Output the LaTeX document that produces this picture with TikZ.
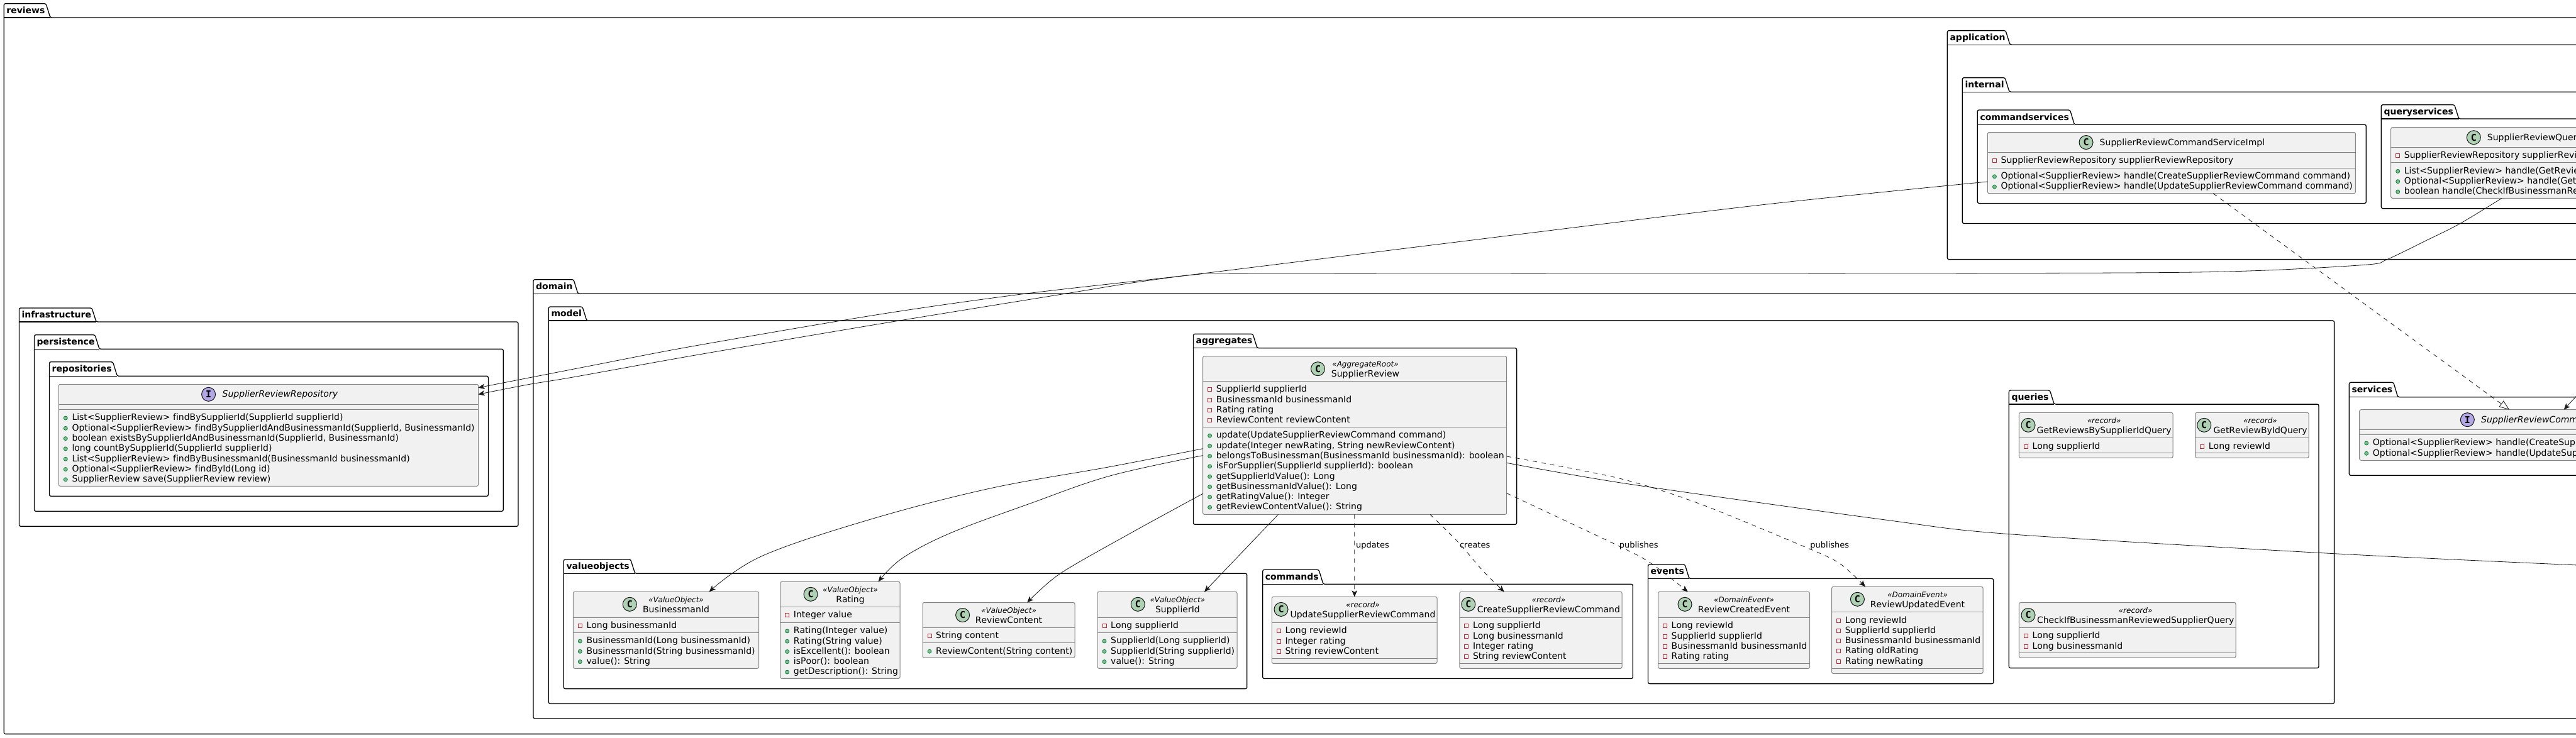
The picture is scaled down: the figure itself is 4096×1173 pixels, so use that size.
\documentclass[tikz,border=0pt]{standalone}
\usepackage{fontspec}
\setmainfont{DejaVu Sans}[Kerning=Off,Ligatures=NoCommon]
\newfontfamily\glyphfont{DejaVu Sans Mono}[Kerning=Off]
\usetikzlibrary{arrows.meta,calc}
\definecolor{cfill}{HTML}{F1F1F1}
\definecolor{cedge}{HTML}{848484}
\definecolor{ink}{HTML}{181818}
\definecolor{cspot}{HTML}{ADD1B2}
\definecolor{ispot}{HTML}{B4A7E5}
\definecolor{fieldred}{HTML}{C82930}
\definecolor{methfill}{HTML}{84BE84}
\definecolor{methedge}{HTML}{038048}
\tikzset{
  pkline/.style={draw=black,line width=1.3pt,line join=round},
  pklabel/.style={anchor=base west,inner sep=0pt,font=\fontsize{14}{16}\selectfont\bfseries},
  cbox/.style={draw=cedge,fill=cfill,line width=1pt,rounded corners=2.5pt,inner sep=0pt,outer sep=0pt},
  cline/.style={draw=cedge,line width=1pt},
  mem/.style={anchor=base west,inner sep=0pt,font=\fontsize{14}{16}\selectfont},
  stereo/.style={anchor=base,inner sep=0pt,font=\fontsize{12}{14}\selectfont\itshape},
  ctitle/.style={anchor=base,inner sep=0pt,font=\fontsize{14}{16}\selectfont},
  spotc/.style={draw=ink,fill=cspot,line width=1pt},
  spoti/.style={draw=ink,fill=ispot,line width=1pt},
  spotl/.style={inner sep=0pt,font=\fontsize{15}{16}\glyphfont\bfseries},
  ficon/.style={draw=fieldred,line width=1pt,fill=none},
  micon/.style={draw=methedge,fill=methfill,line width=.8pt},
  conn/.style={draw=ink,line width=.8pt},
  tipa/.style={-{Stealth[length=10pt,width=8.5pt,inset=2.5pt]}},
  tipr/.style={-{Triangle[open,length=16pt,width=12pt,fill=white]}},
  elabel/.style={anchor=base west,inner sep=0pt,font=\fontsize{13}{15}\selectfont},
}
\newcommand{\pkg}[8]{%
  \draw[pkline,rounded corners=2.5pt] (#2,#5) -- (#2,#3) -- ({#4-7},#3) -- (#4,#5) -- (#6,#5) -- (#6,#7) -- (#2,#7) -- cycle;
  \draw[pkline] (#2,#5) -- (#4,#5);
  \node[pklabel] (#1) at ({#2+4},{#5-7}) {#8};
}
\newcommand{\klass}[7]{%
  \node[cbox,minimum width={(#4-#2)*1pt},minimum height={(#5-#3)*1pt}] (#1) at ({(#2+#4)/2},{(#3+#5)/2}) {};
  \draw[cline] (#2,#6) -- (#4,#6);
  \draw[cline] (#2,#7) -- (#4,#7);
  \def\kL{#2}\def\kT{#3}\def\kA{#6}\def\kB{#7}%
}
% header with stereotype: name, spot x, text centre x, stereotype, title
\newcommand{\kheadS}[5]{%
  \draw[spotc] (#2,{\kT+20}) circle (11);
  \node[spotl] (#1-spot) at (#2,{\kT+20}) {C};
  \node[stereo] (#1-st) at (#3,{\kT+16.7}) {«#4»};
  \node[ctitle] (#1-ti) at (#3,{\kT+33}) {#5};
}
% plain header: name, spot style, letter, spot x, title start x, title
\newcommand{\kheadP}[6]{%
  \draw[#2] (#4,{\kT+16}) circle (11);
  \node[spotl] (#1-spot) at (#4,{\kT+16}) {#3};
  \node[mem] (#1-ti) at (#5,{\kT+20.5}) {#6};
}
\newcommand{\kfields}[2]{%
  \foreach \t [count=\i] in {#2} {
    \pgfmathsetmacro\yy{\kA+17.5+(\i-1)*16.3}
    \draw[ficon] ({\kL+8},{\yy-7}) rectangle ({\kL+14},{\yy-1});
    \node[mem,name=#1-f\i] at ({\kL+21},\yy) {\t};
  }
}
\newcommand{\kmethods}[2]{%
  \foreach \t [count=\i] in {#2} {
    \pgfmathsetmacro\yy{\kB+17.5+(\i-1)*16.3}
    \draw[micon] ({\kL+11},{\yy-3.8}) circle (3);
    \node[mem,name=#1-m\i] at ({\kL+21},\yy) {\t};
  }
}
\begin{document}
\begin{tikzpicture}[x=1pt,y=-1pt]
\useasboundingbox (0,0) rectangle (4096,1173);
\fill[white] (0,0) rectangle (4096,1173);
\clip (0,0) rectangle (4096,1173);

% packages
\pkg{pReviews}{6.2}{5.7}{80}{28}{4110}{1167.6}{reviews}
\pkg{pApplication}{3096.3}{48.6}{3196}{71.2}{4110}{412.6}{application}
\pkg{pInternal}{3120.3}{123.6}{3195}{146.2}{4110}{355.5}{internal}
\pkg{pCommandservices}{3144.3}{174.9}{3298.4}{198.2}{3762.3}{323.4}{commandservices}
\pkg{pQueryservices}{3786.3}{166.7}{3909.7}{189}{4110}{331.7}{queryservices}
\pkg{pInfrastructure}{30.4}{489.9}{153}{512}{824}{837.3}{infrastructure}
\pkg{pPersistence}{54.5}{532.7}{158}{555.3}{800.3}{813.3}{persistence}
\pkg{pRepositories}{78.4}{575.7}{186.4}{598.3}{776.4}{789.3}{repositories}
\pkg{pDomain}{848}{444.7}{919}{467.3}{4110}{1143}{domain}
\pkg{pModel}{872.3}{488}{933}{510.1}{3711.6}{1119.4}{model}
\pkg{pAggregates}{1897.4}{531.3}{1999}{553.7}{2411.6}{834.3}{aggregates}
\pkg{pValueobjects}{896.3}{890}{1009.7}{912.3}{1982.8}{1095.7}{valueobjects}
\pkg{pCommands}{2007.7}{906.3}{2104}{929.3}{2596.3}{1079.5}{commands}
\pkg{pEvents}{2620.5}{897.9}{2686}{920.5}{3169.8}{1087.6}{events}
\pkg{pQueries}{3194.3}{620.8}{3266.3}{643.1}{3687}{1062.7}{queries}
\pkg{pServices}{3735.3}{608.3}{3812.7}{631.7}{4110}{756.3}{services}

% classes
\klass{repo}{93.3}{611.3}{760.5}{773.3}{643.3}{651.3}
\kheadP{repo}{spoti}{I}{331.6}{353.5}{\itshape SupplierReviewRepository}
\kmethods{repo}{{List<SupplierReview> findBySupplierId(SupplierId supplierId)},{Optional<SupplierReview> findBySupplierIdAndBusinessmanId(SupplierId, BusinessmanId)},{boolean existsBySupplierIdAndBusinessmanId(SupplierId, BusinessmanId)},{long countBySupplierId(SupplierId supplierId)},{List<SupplierReview> findByBusinessmanId(BusinessmanId businessmanId)},{Optional<SupplierReview> findById(Long id)},{SupplierReview save(SupplierReview review)}}

\klass{srv}{1912.6}{566.7}{2395.7}{818.3}{606.3}{679.3}
\kheadS{srv}{2095.5}{2171}{AggregateRoot}{SupplierReview}
\kfields{srv}{{SupplierId supplierId},{BusinessmanId businessmanId},{Rating rating},{ReviewContent reviewContent}}
\kmethods{srv}{{update(UpdateSupplierReviewCommand command)},{update(Integer newRating, String newReviewContent)},{belongsToBusinessman(BusinessmanId businessmanId): boolean},{isForSupplier(SupplierId supplierId): boolean},{getSupplierIdValue(): Long},{getBusinessmanIdValue(): Long},{getRatingValue(): Integer},{getReviewContentValue(): String}}

\klass{bid}{911.3}{941.3}{1206.7}{1063.3}{982.3}{1006.3}
\kheadS{bid}{1001.3}{1075}{ValueObject}{BusinessmanId}
\kfields{bid}{{Long businessmanId}}
\kmethods{bid}{{BusinessmanId(Long businessmanId)},{BusinessmanId(String businessmanId)},{value(): String}}

\klass{rat}{1240.7}{925.3}{1431}{1079.4}{965.4}{990.2}
\kheadS{rat}{1289}{1352}{ValueObject}{Rating}
\kfields{rat}{{Integer value}}
\kmethods{rat}{{Rating(Integer value)},{Rating(String value)},{isExcellent(): boolean},{isPoor(): boolean},{getDescription(): String}}

\klass{rco}{1467}{958.5}{1709}{1046.3}{998.4}{1022.5}
\kheadS{rco}{1530.6}{1604}{ValueObject}{ReviewContent}
\kfields{rco}{{String content}}
\kmethods{rco}{{ReviewContent(String content)}}

\klass{sid}{1745}{941.3}{1967}{1063.3}{982.3}{1006.3}
\kheadS{sid}{1809.3}{1872.4}{ValueObject}{SupplierId}
\kfields{sid}{{Long supplierId}}
\kmethods{sid}{{SupplierId(Long supplierId)},{SupplierId(String supplierId)},{value(): String}}

\klass{upd}{2022.3}{949.4}{2285}{1055.4}{990.3}{1047.4}
\kheadS{upd}{2037}{2167}{record}{UpdateSupplierReviewCommand}
\kfields{upd}{{Long reviewId},{Integer rating},{String reviewContent}}

\klass{cre}{2320.8}{941.3}{2579}{1063.4}{982.3}{1055.4}
\kheadS{cre}{2334.8}{2462.4}{record}{CreateSupplierReviewCommand}
\kfields{cre}{{Long supplierId},{Long businessmanId},{Integer rating},{String reviewContent}}

\klass{rce}{2636.5}{941.3}{2877.5}{1063.4}{982.3}{1055.4}
\kheadS{rce}{2679}{2773}{DomainEvent}{ReviewCreatedEvent}
\kfields{rce}{{Long reviewId},{SupplierId supplierId},{BusinessmanId businessmanId},{Rating rating}}

\klass{rue}{2912.6}{933.3}{3153}{1071.5}{973.5}{1063.4}
\kheadS{rue}{2953.4}{3049}{DomainEvent}{ReviewUpdatedEvent}
\kfields{rue}{{Long reviewId},{SupplierId supplierId},{BusinessmanId businessmanId},{Rating oldRating},{Rating newRating}}

\klass{gbs}{3210.4}{656.3}{3455}{728.3}{696.5}{720.2}
\kheadS{gbs}{3225}{3345.6}{record}{GetReviewsBySupplierIdQuery}
\kfields{gbs}{{Long supplierId}}

\klass{gbi}{3490.7}{656.3}{3671}{728.3}{696.5}{720.2}
\kheadS{gbi}{3504.7}{3594}{record}{GetReviewByIdQuery}
\kfields{gbi}{{Long reviewId}}

\klass{chk}{3210.4}{958.5}{3555}{1046.3}{998.4}{1038.6}
\kheadS{chk}{3225}{3395.6}{record}{CheckIfBusinessmanReviewedSupplierQuery}
\kfields{chk}{{Long supplierId},{Long businessmanId}}

\klass{svc}{3751.7}{651.7}{4110}{732.3}{683.3}{691.3}
\kheadP{svc}{spoti}{I}{3923.3}{3945}{\itshape SupplierReviewComm}
\kmethods{svc}{{Optional<SupplierReview> handle(CreateSupp},{Optional<SupplierReview> handle(UpdateSup}}

\klass{cmd}{3160.4}{210.5}{3745.4}{307.7}{242.2}{267.1}
\kheadP{cmd}{spotc}{C}{3317}{3338.5}{SupplierReviewCommandServiceImpl}
\kfields{cmd}{{SupplierReviewRepository supplierReviewRepository}}
\kmethods{cmd}{{Optional<SupplierReview> handle(CreateSupplierReviewCommand command)},{Optional<SupplierReview> handle(UpdateSupplierReviewCommand command)}}

\klass{qry}{3801.7}{202.7}{4110}{315.3}{234.3}{258.7}
\kheadP{qry}{spotc}{C}{3933.3}{3954.7}{SupplierReviewQuer}
\kfields{qry}{{SupplierReviewRepository supplierRevi}}
\kmethods{qry}{{List<SupplierReview> handle(GetRevie},{Optional<SupplierReview> handle(Get},{boolean handle(CheckIfBusinessmanRe}}

% connector ends
\coordinate (cmdA) at ($(cmd.north west)+(0,78.5)$);
\coordinate (repoA) at ($(repo.north east)+(0,5.4)$);
\coordinate (qryA) at ($(qry.south west)+(176.3,0)$);
\coordinate (repoB) at ($(repo.north east)+(0,16)$);
\coordinate (cmdB) at ($(cmd.south west)+(358.6,0)$);
\coordinate (svcA) at ($(svc.north west)+(238.3,0)$);
\coordinate (svcB) at ($(svc.north west)+(325,0)$);
\coordinate (svcFree) at (4110,615.4);
\coordinate (srvBid) at ($(srv.north west)+(0,147)$);
\coordinate (bidA) at ($(bid.north west)+(216.4,0)$);
\coordinate (srvRat) at ($(srv.north west)+(0,157.9)$);
\coordinate (ratA) at ($(rat.north west)+(156,0)$);
\coordinate (srvRco) at ($(srv.north west)+(0,218.6)$);
\coordinate (rcoA) at ($(rco.north west)+(166.3,0)$);
\coordinate (srvSid) at ($(srv.south west)+(119.9,0)$);
\coordinate (sidA) at ($(sid.north west)+(170,0)$);
\coordinate (srvUpd) at ($(srv.south west)+(241.1,0)$);
\coordinate (updA) at ($(upd.north west)+(131.4,0)$);
\coordinate (srvCre) at ($(srv.south west)+(361.4,0)$);
\coordinate (creA) at ($(cre.north west)+(70.8,0)$);
\coordinate (srvRce) at ($(srv.north east)+(0,217.9)$);
\coordinate (rceA) at ($(rce.north west)+(47.2,0)$);
\coordinate (srvRue) at ($(srv.north east)+(0,159.3)$);
\coordinate (rueA) at ($(rue.north west)+(53.4,0)$);
\coordinate (srvOut) at ($(srv.north east)+(0,169.6)$);
\coordinate (outFree) at (4110,899.5);

% connectors
\draw[conn,tipa] plot[smooth,tension=0.5] coordinates {(cmdA) (2800,326) (2300,387) (1904,436) (1632,467) (1400,499.8) (1100,551) (940,581.7) (846,600) (repoA)};
\draw[conn,tipa] plot[smooth,tension=0.5] coordinates {(qryA) (3911,356) (3857.6,382.7) (3795,413) (3764,421) (3590.5,430.5) (3377,434) (2700,435) (1980,434.6) (1904,436.5) (1800,450) (1695,467) (1400,515) (1100,566) (911,600) (840,611.7) (repoB)};
\draw[conn,dashed,dash pattern=on 7pt off 7pt,tipr] (cmdB) -- (svcA);
\draw[conn,tipa] (svcFree) -- (svcB);
\draw[conn,tipa] plot[smooth,tension=0.6] coordinates {(srvBid) (1765,742.5) (1574,777) (1382.6,826.6) (1210.5,885) (bidA)};
\draw[conn,tipa] plot[smooth,tension=0.6] coordinates {(srvRat) (1765,757) (1637.8,801) (1510,848.5) (1433.7,888.7) (ratA)};
\draw[conn,tipa] plot[smooth,tension=0.5] coordinates {(srvRco) (1797,848.5) (1685.6,912.5) (rcoA)};
\draw[conn,tipa] (srvSid) -- (sidA);
\draw[conn,dashed,dash pattern=on 7pt off 7pt,tipa] (srvUpd) -- (updA);
\draw[conn,dashed,dash pattern=on 7pt off 7pt,tipa] plot[smooth,tension=0.5] coordinates {(srvCre) (2319,863) (2357,907) (creA)};
\draw[conn,dashed,dash pattern=on 7pt off 7pt,tipa] plot[smooth,tension=0.5] coordinates {(srvRce) (2574,868.6) (2625,896) (rceA)};
\draw[conn,dashed,dash pattern=on 7pt off 7pt,tipa] plot[smooth,tension=0.5] coordinates {(srvRue) (2574,760.8) (2701.5,801) (2871,870.5) (2924.7,896) (rueA)};
\draw[conn] plot[smooth,tension=0.5] coordinates {(srvOut) (2590,770) (3000,827.3) (3194.3,849.6) (3711.5,880.7) (outFree)};

% connector labels
\node[elabel] (lUpdates) at (2156,871.6) {updates};
\node[elabel] (lCreates) at (2320.8,871.6) {creates};
\node[elabel] (lPub1) at (2574.6,871.6) {publishes};
\node[elabel] (lPub2) at (2878.2,871.6) {publishes};
\end{tikzpicture}
\end{document}
